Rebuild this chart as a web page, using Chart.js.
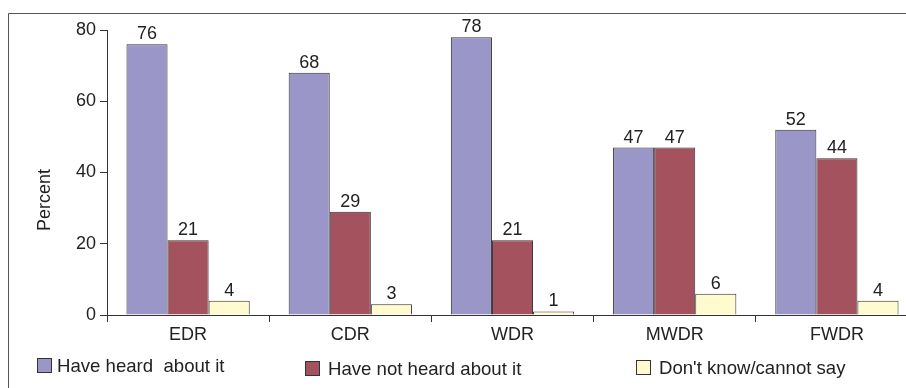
<!DOCTYPE html>
<html>
<head>
<meta charset="utf-8">
<script src="https://cdn.jsdelivr.net/npm/chart.js@4/dist/chart.umd.min.js"></script>
<style>
  html, body { margin: 0; padding: 0; background: #fff; overflow: hidden; }
  #wrap { position: absolute; left: 0; top: 0; width: 925px; height: 388px; }
</style>
</head>
<body>
<div id="wrap"><canvas id="c" width="925" height="388"></canvas></div>
<script>
// Awareness of the regional divisions, by region (percent)
const categories = ['EDR', 'CDR', 'WDR', 'MWDR', 'FWDR'];
const heardValues = [76, 68, 78, 47, 52];
const notHeardValues = [21, 29, 21, 47, 44];
const dontKnowValues = [4, 3, 1, 6, 4];
const seriesNames = ['Have heard  about it', 'Have not heard about it', "Don't know/cannot say"];
const yTicks = [0, 20, 40, 60, 80];
const yTitle = 'Percent';

const FONT = "'Liberation Sans', Arial, Helvetica, sans-serif";
const TEXT = '#222';
const LINE = '#333';
const fills = ['#9a96c8', '#a4525e', '#fffbcf'];

// Outer frame (top and left edges of the figure box)
const framePlugin = {
  id: 'frame',
  beforeDraw(chart) {
    const ctx = chart.ctx;
    ctx.save();
    ctx.strokeStyle = '#555';
    ctx.lineWidth = 1;
    ctx.beginPath();
    ctx.moveTo(8.5, chart.height);
    ctx.lineTo(8.5, 13.5);
    ctx.lineTo(chart.width, 13.5);
    ctx.stroke();
    ctx.restore();
  }
};

// Value labels above each bar
const valueLabels = {
  id: 'valueLabels',
  afterDatasetsDraw(chart) {
    const ctx = chart.ctx;
    ctx.save();
    ctx.font = '18px ' + FONT;
    ctx.fillStyle = TEXT;
    ctx.textAlign = 'center';
    ctx.textBaseline = 'alphabetic';
    chart.data.datasets.forEach((ds, i) => {
      chart.getDatasetMeta(i).data.forEach((bar, j) => {
        ctx.fillText(String(ds.data[j]), bar.x, bar.y - 5);
      });
    });
    ctx.restore();
  }
};

// Rotated y-axis title
const yTitlePlugin = {
  id: 'yTitle',
  afterDraw(chart) {
    const ctx = chart.ctx;
    const area = chart.chartArea;
    ctx.save();
    ctx.font = '18px ' + FONT;
    ctx.fillStyle = TEXT;
    ctx.textAlign = 'center';
    ctx.textBaseline = 'middle';
    ctx.translate(area.left - 62, area.top + 170);
    ctx.rotate(-Math.PI / 2);
    ctx.fillText(yTitle, 0, 0);
    ctx.restore();
  }
};

// Legend row along the bottom (swatch, then label)
const legendRow = {
  id: 'legendRow',
  afterDraw(chart) {
    const ctx = chart.ctx;
    const boxX = [37, 305, 636];
    const boxY = [358, 361, 360];
    const textGap = [20, 23, 23];
    const baseY = [372, 375, 373.5];
    ctx.save();
    ctx.font = '18.6px ' + FONT;
    ctx.textBaseline = 'alphabetic';
    ctx.textAlign = 'left';
    chart.data.datasets.forEach((ds, i) => {
      const x = boxX[i], y = boxY[i];
      ctx.fillStyle = ds.backgroundColor;
      ctx.fillRect(x, y, 15, 15);
      ctx.strokeStyle = LINE;
      ctx.lineWidth = 1;
      ctx.strokeRect(x + 0.5, y + 0.5, 14, 14);
      ctx.fillStyle = TEXT;
      ctx.fillText(ds.label, x + textGap[i], baseY[i]);
    });
    ctx.restore();
  }
};

const seriesValues = [heardValues, notHeardValues, dontKnowValues];

new Chart(document.getElementById('c'), {
  type: 'bar',
  data: {
    labels: categories,
    datasets: seriesNames.map((name, i) => ({
      label: name,
      data: seriesValues[i],
      backgroundColor: fills[i],
      borderColor: LINE,
      borderWidth: 1,
      borderSkipped: 'bottom',
      categoryPercentage: 0.76,
      barPercentage: 1.0
    }))
  },
  options: {
    responsive: false,
    devicePixelRatio: 1,
    animation: false,
    layout: { padding: { top: 30, left: 0, right: 7, bottom: 0 } },
    plugins: {
      legend: { display: false },
      tooltip: { enabled: false }
    },
    scales: {
      x: {
        offset: true,
        grid: {
          offset: true,
          drawOnChartArea: false,
          drawTicks: true,
          tickLength: 7,
          color: LINE
        },
        border: { display: true, color: LINE, width: 1 },
        ticks: { font: { size: 18, family: FONT }, color: TEXT, padding: 2 },
        afterFit(scale) { scale.height = 73; }
      },
      y: {
        min: 0,
        max: 80,
        afterBuildTicks(scale) { scale.ticks = yTicks.map(v => ({ value: v })); },
        grid: {
          drawOnChartArea: false,
          drawTicks: true,
          tickLength: 7,
          color: LINE
        },
        border: { display: true, color: LINE, width: 1 },
        ticks: { font: { size: 18, family: FONT }, color: TEXT, padding: 4 },
        afterFit(scale) { scale.width = 107; }
      }
    }
  },
  plugins: [framePlugin, valueLabels, yTitlePlugin, legendRow]
});
</script>
</body>
</html>
